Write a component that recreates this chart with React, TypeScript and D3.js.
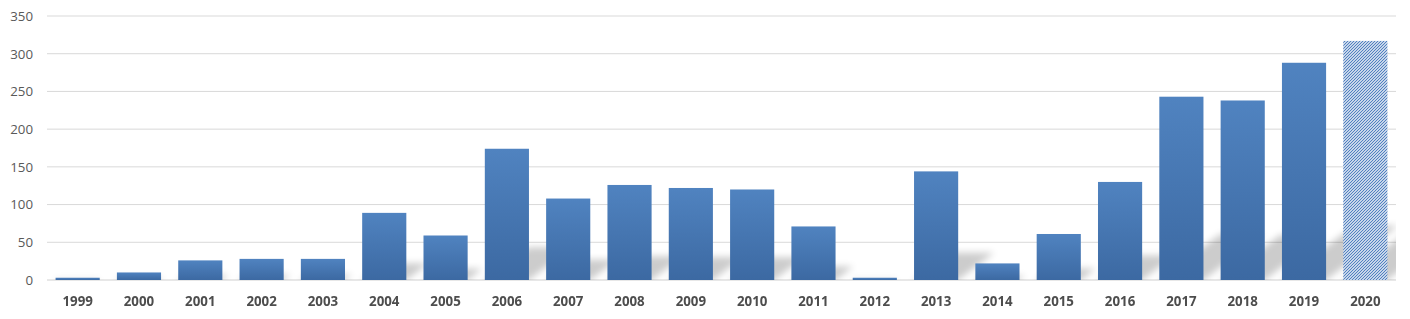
import React from "react";
import * as d3 from "d3";

const years = ["1999","2000","2001","2002","2003","2004","2005","2006","2007","2008","2009","2010","2011","2012","2013","2014","2015","2016","2017","2018","2019","2020"];
const counts = [3, 10, 26, 28, 28, 89, 59, 174, 108, 126, 122, 120, 71, 3, 144, 22, 61, 130, 243, 238, 288, 317];
const projectedYears = ["2020"];
const yTicks = [0, 50, 100, 150, 200, 250, 300, 350];

const W = 1410;
const H = 319;
const M = { left: 47, right: 14, top: 16, bottom: 39 };

export default function App() {
  const x = d3.scaleBand<string>().domain(years).range([M.left, W - M.right]).paddingInner(0.28).paddingOuter(0.14);
  const y = d3.scaleLinear().domain([0, 350]).range([H - M.bottom, M.top]);
  const base = y(0);
  const font = "'Open Sans', 'Noto Sans', sans-serif";
  const skew = -53;
  const sy = 0.25;

  return (
    <div style={{ position: "absolute", left: 0, top: 0 }}>
      <svg width={W} height={H} style={{ display: "block" }}>
        <defs>
          <linearGradient id="barGrad" x1="0" y1="0" x2="0" y2="1">
            <stop offset="0%" stopColor="#5083c0" />
            <stop offset="100%" stopColor="#3c69a2" />
          </linearGradient>
          <pattern id="hatch" width="3" height="3" patternUnits="userSpaceOnUse">
            <rect width="3" height="3" fill="#ffffff" />
            <path d="M-1,1 l2,-2 M0,3 l3,-3 M2,4 l2,-2" stroke="#4a7bbd" strokeWidth="1.2" />
          </pattern>
          <filter id="blur" x="-20%" y="-50%" width="140%" height="200%">
            <feGaussianBlur stdDeviation="3.5" />
          </filter>
          <clipPath id="plotClip">
            <rect x={M.left} y={0} width={W - M.right - M.left} height={base} />
          </clipPath>
        </defs>

        {yTicks.map((t) => (
          <g key={t}>
            <line x1={M.left} x2={W - M.right} y1={y(t)} y2={y(t)} stroke={t === 0 ? "#d0d0d0" : "#d9d9d9"} strokeWidth={1} />
            <text x={33} y={y(t)} dy="0.36em" textAnchor="end" fontFamily={font} fontSize={13.3} fill="#595959">
              {t}
            </text>
          </g>
        ))}

        <g clipPath="url(#plotClip)">
          <g filter="url(#blur)" opacity={0.2}>
            {years.map((yr, i) => {
              const x0 = x(yr)!;
              const h = base - y(counts[i]);
              return (
                <rect
                  key={"s" + yr}
                  x={x0}
                  y={base - h}
                  width={x.bandwidth()}
                  height={h + 6}
                  fill="#000"
                  transform={`translate(${x0},${base}) skewX(${skew}) scale(1,${sy}) translate(${-x0},${-base})`}
                />
              );
            })}
          </g>
        </g>

        {years.map((yr, i) => (
          <rect
            key={yr}
            x={x(yr)}
            y={y(counts[i])}
            width={x.bandwidth()}
            height={base - y(counts[i])}
            fill={projectedYears.includes(yr) ? "url(#hatch)" : "url(#barGrad)"}
          />
        ))}

        {years.map((yr) => (
          <text
            key={"l" + yr}
            x={x(yr)! + x.bandwidth() / 2}
            y={301}
            dy="0.36em"
            textAnchor="middle"
            fontFamily={font}
            fontWeight="bold"
            fontSize={13.3}
            fill="#4d4d4d"
          >
            {yr}
          </text>
        ))}
      </svg>
    </div>
  );
}
